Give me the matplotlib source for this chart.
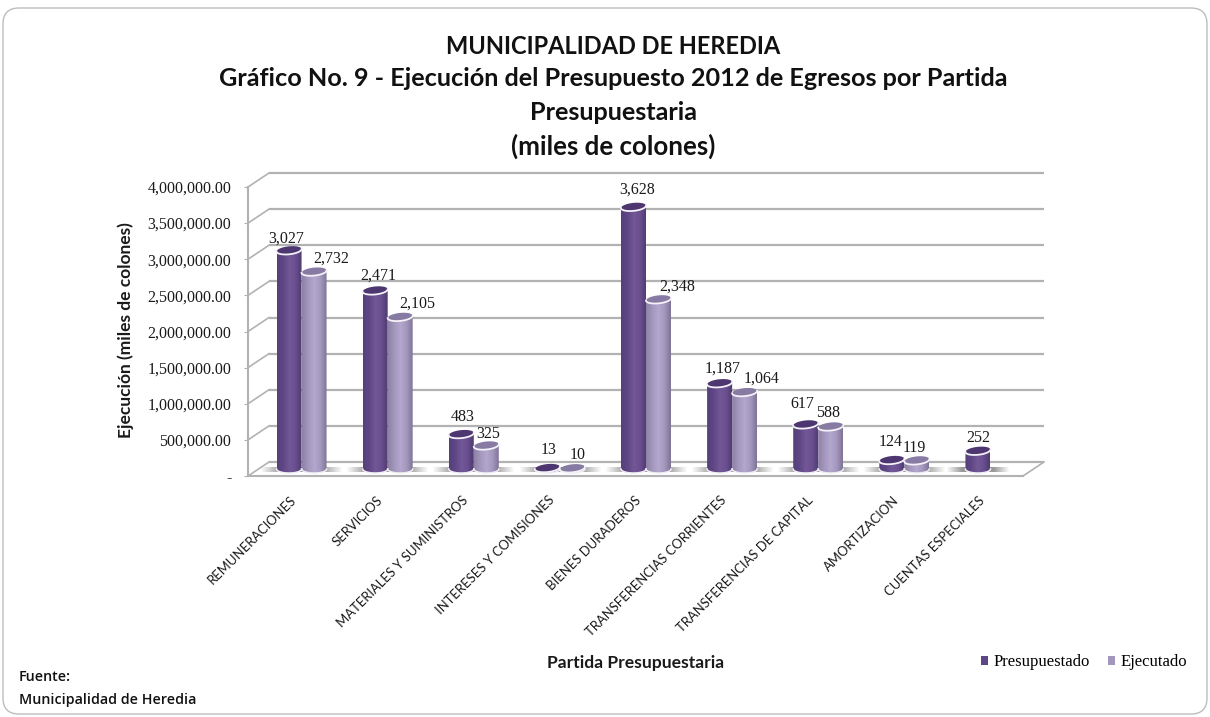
import numpy as np
from matplotlib import pyplot as plt
from matplotlib import patches
from matplotlib.colors import LinearSegmentedColormap
from matplotlib.ticker import FuncFormatter
from matplotlib.transforms import Affine2D, IdentityTransform

categories = ["REMUNERACIONES", "SERVICIOS", "MATERIALES Y SUMINISTROS", "INTERESES Y COMISIONES",
              "BIENES DURADEROS", "TRANSFERENCIAS CORRIENTES", "TRANSFERENCIAS DE CAPITAL",
              "AMORTIZACION", "CUENTAS ESPECIALES"]
presupuestado = [3027, 2471, 483, 13, 3628, 1187, 617, 124, 252]
ejecutado = [2732, 2105, 325, 10, 2348, 1064, 588, 119, None]
y_ticks = [0, 500000, 1000000, 1500000, 2000000, 2500000, 3000000, 3500000, 4000000]

# label nudges in pixels, (dx, dy) from the top of each cylinder
pres_nudge = [(-3, 12), (3, 15), (1, 17), (1, 18), (4, 17), (3, 15), (-3, 20), (-1, 18), (0, 13)]
ejec_nudge = [(17, 13), (17, 13), (2, 12), (5, 13), (19, 13), (17, 13), (-3, 14), (-3, 12), (0, 0)]

SANS = "Lato"
NUM = "Liberation Serif"
GRID = "#b2b2b2"
PX_Y = 289 / 4000000.0      # data units to pixels
PX_X = 775 / 9.0

pres_cmap = LinearSegmentedColormap.from_list("pres", ["#55407a", "#5f4786", "#735797", "#6a4f90", "#4d3a6e"])
ejec_cmap = LinearSegmentedColormap.from_list("ejec", ["#8d81a6", "#a397bd", "#b3a7cd", "#a498be", "#7f7496"])


def depth(d):
    return Affine2D().translate(21 * d, 14 * d)


def cylinder(ax, xc, value, cmap, top_color):
    trans = ax.transData + depth(0.5)
    a = 12.5 / PX_X
    b = 4.0 / PX_Y
    k = 1.2 / PX_Y
    t = np.linspace(0, np.pi, 40)
    # the body runs from the front of the base arc up to the top rim
    bx = np.r_[xc - a * np.cos(t), xc + a * np.cos(t)]
    by = np.r_[-b * np.sin(t), value + k * np.cos(t)]
    body = patches.Polygon(np.c_[bx, by], closed=True, facecolor="none", edgecolor="none",
                           transform=trans, clip_on=False, zorder=4)
    ax.add_patch(body)
    grad = np.linspace(0, 1, 64).reshape(1, -1)
    im = ax.imshow(grad, cmap=cmap, extent=[xc - a, xc + a, -2 * b, value + 2 * b], aspect="auto",
                   transform=trans, zorder=4, interpolation="bilinear")
    im.set_clip_path(body)
    # white rim on the base
    ax.plot(xc - a * np.cos(t), -b * np.sin(t), color="#f0eef4", lw=1.1, transform=trans, zorder=5, clip_on=False)
    tt = np.linspace(0, 2 * np.pi, 80)
    ex = xc + a * np.cos(tt)
    ey = value + b * np.sin(tt) + k * np.cos(tt)
    ax.add_patch(patches.Polygon(np.c_[ex, ey], closed=True, facecolor=top_color, edgecolor="none",
                                 transform=trans, clip_on=False, zorder=5))
    lo = np.linspace(np.pi, 2 * np.pi, 40)
    ax.plot(xc + a * np.cos(lo), value + b * np.sin(lo) + k * np.cos(lo), color="#f4f2f8", lw=1.3,
            transform=trans, zorder=6, clip_on=False)


def floor_shadow(ax, xc, half):
    trans = ax.transData + depth(0.5)
    rgba = np.ones((1, 64, 4))
    rgba[..., :3] = 0.5
    rgba[0, :, 3] = 0.8 * np.minimum(1, 2 * (1 - np.abs(np.linspace(-1, 1, 64))))
    ax.imshow(rgba, extent=[xc - half, xc + half, -3 / PX_Y, 1.5 / PX_Y], aspect="auto",
              transform=trans, zorder=2, interpolation="bilinear")


fig = plt.figure(figsize=(12.1, 7.17), dpi=100, facecolor="white")

fig.add_artist(patches.FancyBboxPatch((3, 3), 1204, 706, boxstyle="round,pad=0,rounding_size=16",
                                      transform=IdentityTransform(), facecolor="white",
                                      edgecolor="#bdbdbd", lw=1.0, zorder=-1))

ax = fig.add_axes([248 / 1210, (717 - 476) / 717, 775 / 1210, 289 / 717])
ax.patch.set_visible(False)
x = np.arange(len(categories)) + 0.5
bar_w = 25 / PX_X

# back wall, side wall and floor
back = ax.transData + depth(1)
ax.hlines(y_ticks, 0, 9, color=GRID, lw=1.6, transform=back, zorder=1, clip_on=False)
for v in y_ticks:
    ax.add_line(plt.Line2D([248, 269], [717 - 476 + v * PX_Y, 717 - 476 + v * PX_Y + 14], color=GRID, lw=1.2,
                           transform=IdentityTransform(), zorder=1, clip_on=False))
ax.add_line(plt.Line2D([1023, 1044], [717 - 476, 717 - 462], color=GRID, lw=1.2,
                       transform=IdentityTransform(), zorder=1, clip_on=False))

for i, xc in enumerate(x):
    if ejecutado[i] is None:
        floor_shadow(ax, xc - bar_w / 2, 0.37)
    else:
        floor_shadow(ax, xc, 0.48)

for i, xc in enumerate(x):
    cylinder(ax, xc - bar_w / 2, presupuestado[i] * 1000, pres_cmap, "#4e3770")
    ax.annotate(f"{presupuestado[i]:,}", (xc - bar_w / 2, presupuestado[i] * 1000), xycoords=ax.transData + depth(0.5),
                xytext=pres_nudge[i], textcoords="offset pixels", ha="center", va="center",
                fontsize=11.5, family=NUM, color="#1a1a1a", zorder=7)
    if ejecutado[i] is not None:
        cylinder(ax, xc + bar_w / 2, ejecutado[i] * 1000, ejec_cmap, "#887ba3")
        ax.annotate(f"{ejecutado[i]:,}", (xc + bar_w / 2, ejecutado[i] * 1000), xycoords=ax.transData + depth(0.5),
                    xytext=ejec_nudge[i], textcoords="offset pixels", ha="center", va="center",
                    fontsize=11.5, family=NUM, color="#1a1a1a", zorder=7)

ax.set_xlim(0, 9)
ax.set_ylim(0, 4000000)
for side in ["top", "right"]:
    ax.spines[side].set_visible(False)
for side in ["left", "bottom"]:
    ax.spines[side].set_color(GRID)
    ax.spines[side].set_linewidth(1.5)

ax.set_yticks(y_ticks)
ax.yaxis.set_major_formatter(FuncFormatter(lambda v, pos: "-" if v == 0 else f"{v:,.2f}"))
ax.tick_params(axis="y", length=3, color=GRID, pad=9, labelsize=11.5, labelcolor="#1a1a1a")
for lab in ax.get_yticklabels():
    lab.set_family(NUM)

ax.set_xticks(x)
ax.set_xticklabels(categories, rotation=45, ha="right", va="center", rotation_mode="anchor",
                   fontsize=9.4, family=SANS, color="#1a1a1a")
ax.tick_params(axis="x", length=0, pad=16)
for lab in ax.get_xticklabels():
    lab.set_transform(lab.get_transform() + Affine2D().translate(3, 0))

ax.set_ylabel("Ejecución (miles de colones)", fontsize=12.5, family=SANS, weight="bold", color="#1a1a1a")
ax.yaxis.set_label_coords(-114 / 775, 0.505)
ax.set_xlabel("Partida Presupuestaria", fontsize=12.6, family=SANS, weight="bold", color="#1a1a1a")
ax.xaxis.set_label_coords(388 / 775, -187 / 289)
ax.xaxis.label.set_va("center")

fig.text(613 / 1210, 1 - 46 / 717, "MUNICIPALIDAD DE HEREDIA", ha="center", va="center", fontsize=17,
         family=SANS, weight="bold", color="#111111")
fig.text(613 / 1210, 1 - 79 / 717, "Gráfico No. 9 - Ejecución del Presupuesto 2012 de Egresos por Partida",
         ha="center", va="center", fontsize=18.2, family=SANS, weight="bold", color="#111111")
fig.text(613 / 1210, 1 - 112 / 717, "Presupuestaria", ha="center", va="center", fontsize=18.2,
         family=SANS, weight="bold", color="#111111")
fig.text(613 / 1210, 1 - 146 / 717, "(miles de colones)", ha="center", va="center", fontsize=18.6,
         family=SANS, weight="bold", color="#111111")

fig.text(19 / 1210, 1 - 677 / 717, "Fuente:", fontsize=10.3, family="Open Sans", weight="semibold",
         va="center", color="#111111")
fig.text(19 / 1210, 1 - 700 / 717, "Municipalidad de Heredia", fontsize=10.3, family="Open Sans", weight="semibold",
         va="center", color="#111111")

handles = [patches.Patch(facecolor="#5f4786", lw=0, label="Presupuestado"),
           patches.Patch(facecolor="#a397bd", lw=0, label="Ejecutado")]
fig.legend(handles=handles, loc="center right", bbox_to_anchor=(1187 / 1210, 1 - 662 / 717), ncol=2, frameon=False,
           handlelength=0.45, handleheight=0.45, handletextpad=0.3, columnspacing=1.1, borderpad=0, borderaxespad=0,
           prop={"family": NUM, "size": 12})

fig.savefig("out.png", dpi=100)
